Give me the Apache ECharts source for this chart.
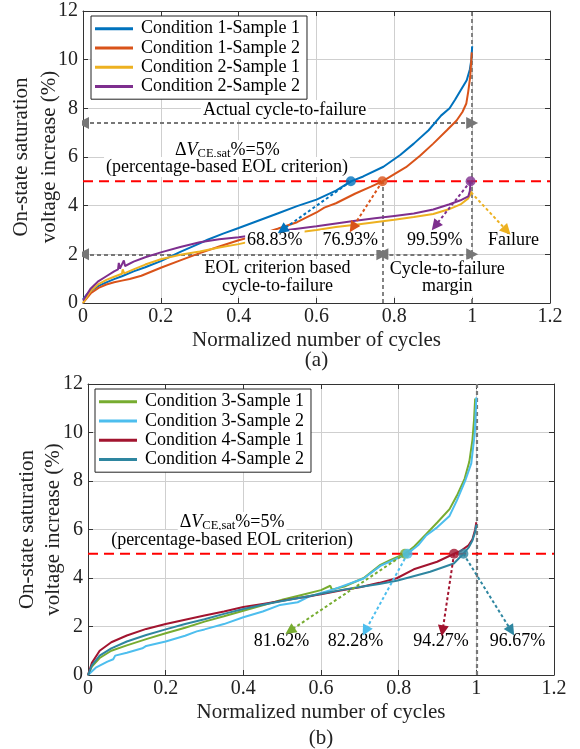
<!DOCTYPE html>
<html><head><meta charset="utf-8">
<script src="https://cdn.jsdelivr.net/npm/echarts@6/dist/echarts.min.js"></script>
<style>html,body{margin:0;padding:0;background:#fff}#c{width:580px;height:749px}</style>
</head><body><div id="c"></div>
<script>
// ---------- axes ----------
const xTickValues = [0, 0.2, 0.4, 0.6, 0.8, 1, 1.2];
const yTickValues = [0, 2, 4, 6, 8, 10, 12];
const eolThreshold = 5;

// ---------- panel (a) ----------
const namesA = ['Condition 1-Sample 1', 'Condition 1-Sample 2', 'Condition 2-Sample 1', 'Condition 2-Sample 2'];
const cond1Sample1 = [[0,0.15],[0.01,0.35],[0.02,0.5],[0.04,0.7],[0.06,0.85],[0.08,0.98],[0.1,1.1],[0.13,1.3],[0.16,1.47],[0.2,1.72],[0.25,2.1],[0.3,2.45],[0.32,2.6],[0.36,2.85],[0.4,3.08],[0.45,3.38],[0.5,3.68],[0.55,3.98],[0.6,4.25],[0.65,4.62],[0.6883,5.0],[0.72,5.2],[0.772,5.6],[0.815,6.08],[0.85,6.55],[0.888,7.1],[0.92,7.7],[0.942,8.0],[0.956,8.35],[0.969,8.7],[0.986,9.15],[0.994,9.6],[0.998,10.0],[1.0,10.55]];
const cond1Sample2 = [[0,0],[0.02,0.4],[0.04,0.62],[0.06,0.76],[0.08,0.85],[0.1,0.92],[0.12,0.99],[0.15,1.12],[0.2,1.45],[0.25,1.75],[0.3,2.05],[0.35,2.32],[0.4,2.58],[0.45,2.8],[0.5,3.05],[0.55,3.32],[0.6,3.72],[0.62,3.92],[0.65,4.1],[0.7,4.5],[0.74,4.78],[0.7693,5.0],[0.8,5.3],[0.83,5.58],[0.866,6.05],[0.9,6.55],[0.935,7.1],[0.96,7.5],[0.975,7.85],[0.985,8.2],[0.99,8.7],[0.995,9.3],[0.999,10.3]];
const cond2Sample1 = [[0,0],[0.02,0.5],[0.04,0.78],[0.06,0.95],[0.08,1.08],[0.1,1.2],[0.102,1.38],[0.106,1.22],[0.13,1.38],[0.16,1.58],[0.2,1.8],[0.25,1.98],[0.3,2.12],[0.35,2.28],[0.4,2.42],[0.45,2.6],[0.5,2.75],[0.55,2.9],[0.6,3.0],[0.65,3.12],[0.7,3.22],[0.75,3.32],[0.8,3.42],[0.85,3.53],[0.9,3.66],[0.94,3.85],[0.97,4.05],[0.99,4.3],[0.995,4.45],[0.997,4.6]];
const cond2Sample2 = [[0,0.1],[0.02,0.6],[0.04,0.9],[0.06,1.1],[0.08,1.3],[0.09,1.38],[0.092,1.65],[0.095,1.42],[0.1,1.48],[0.105,1.75],[0.108,1.52],[0.13,1.7],[0.16,1.88],[0.2,2.08],[0.25,2.3],[0.3,2.5],[0.35,2.62],[0.4,2.7],[0.45,2.82],[0.5,2.95],[0.55,3.05],[0.6,3.15],[0.65,3.27],[0.7,3.38],[0.75,3.48],[0.8,3.58],[0.85,3.68],[0.9,3.84],[0.94,4.05],[0.97,4.22],[0.99,4.38],[0.994,4.6],[0.996,5.0]];
const eolFractionsA = [0.6883, 0.7693, 0.9959];
const eolLabelsA = ['68.83%', '76.93%', '99.59%'];
const arrowEndsA = [[0.512, 3.0], [0.693, 3.1], [0.905, 3.17]];
const failurePoint = [0.997, 4.55];
const failureArrowEnd = [1.089, 2.97];
const actualFailureX = 1;

// ---------- panel (b) ----------
const namesB = ['Condition 3-Sample 1', 'Condition 3-Sample 2', 'Condition 4-Sample 1', 'Condition 4-Sample 2'];
const cond3Sample1 = [[0,0],[0.01,0.35],[0.03,0.7],[0.06,1.0],[0.1,1.22],[0.15,1.48],[0.2,1.72],[0.25,1.95],[0.3,2.2],[0.35,2.42],[0.4,2.65],[0.45,2.87],[0.5,3.1],[0.55,3.3],[0.6,3.5],[0.624,3.68],[0.628,3.52],[0.66,3.65],[0.71,4.0],[0.753,4.54],[0.778,4.74],[0.8162,5.0],[0.84,5.3],[0.87,5.8],[0.9,6.3],[0.931,6.84],[0.95,7.4],[0.97,8.1],[0.982,8.8],[0.99,9.7],[0.994,10.5],[0.997,11.4]];
const cond3Sample2 = [[0,0],[0.02,0.3],[0.05,0.55],[0.065,0.65],[0.07,0.8],[0.1,0.92],[0.14,1.1],[0.15,1.2],[0.2,1.38],[0.25,1.62],[0.28,1.8],[0.3,1.88],[0.35,2.1],[0.4,2.38],[0.45,2.62],[0.495,2.89],[0.54,3.0],[0.565,3.2],[0.6,3.38],[0.636,3.55],[0.71,3.98],[0.753,4.5],[0.8228,5.0],[0.85,5.35],[0.87,5.74],[0.9,6.1],[0.931,6.56],[0.95,7.2],[0.972,8.04],[0.987,8.73],[0.996,9.97],[1.0,11.45]];
const cond4Sample1 = [[0,0],[0.01,0.5],[0.03,1.0],[0.06,1.35],[0.1,1.63],[0.15,1.9],[0.2,2.1],[0.25,2.28],[0.3,2.45],[0.35,2.62],[0.4,2.8],[0.45,2.93],[0.5,3.06],[0.55,3.2],[0.6,3.33],[0.65,3.48],[0.7,3.62],[0.75,3.8],[0.795,3.99],[0.839,4.36],[0.899,4.67],[0.9427,5.0],[0.96,5.12],[0.98,5.35],[0.99,5.6],[0.997,6.0],[1.0,6.3]];
const cond4Sample2 = [[0,0],[0.01,0.4],[0.03,0.8],[0.06,1.1],[0.1,1.38],[0.15,1.65],[0.2,1.88],[0.25,2.1],[0.3,2.3],[0.35,2.52],[0.4,2.72],[0.45,2.9],[0.5,3.05],[0.55,3.2],[0.6,3.35],[0.65,3.5],[0.7,3.63],[0.75,3.75],[0.795,3.89],[0.881,4.26],[0.942,4.6],[0.9667,5.0],[0.98,5.25],[0.99,5.55],[0.997,5.9],[1.0,6.2]];
const eolFractionsB = [0.8162, 0.8228, 0.9427, 0.9667];
const eolLabelsB = ['81.62%', '82.28%', '94.27%', '96.67%'];
const arrowEndsB = [[0.52, 1.82], [0.714, 1.82], [0.913, 1.82], [1.09, 1.82]];

// ---------- styles ----------
const colorsA = ['#0072BD', '#D95319', '#EDB120', '#7E2F8E'];
const colorsB = ['#77AC30', '#4DBEEE', '#A2142F', '#2E86A0'];
const FONT = 'Liberation Serif';
const AX = '#333333';
const TXT = '#000000';

function xAxes(gi, nameText, nameGap, lh) {
  return [{
    gridIndex: gi, type: 'value', min: xTickValues[0], max: xTickValues[xTickValues.length - 1], interval: xTickValues[1] - xTickValues[0],
    position: 'bottom',
    axisLine: { show: true, onZero: false, lineStyle: { color: AX, width: 1 } },
    axisTick: { show: true, inside: true, length: 5, lineStyle: { color: AX } },
    axisLabel: { fontFamily: FONT, fontSize: 20, color: '#222', margin: 4 },
    splitLine: { show: true, lineStyle: { color: '#cfcfcf', width: 1 } },
    name: nameText, nameLocation: 'middle', nameGap: nameGap,
    nameTextStyle: { fontFamily: FONT, fontSize: 21, color: '#222', lineHeight: lh }
  }, {
    gridIndex: gi, type: 'value', min: xTickValues[0], max: xTickValues[xTickValues.length - 1], interval: xTickValues[1] - xTickValues[0],
    position: 'top',
    axisLine: { show: true, onZero: false, lineStyle: { color: AX, width: 1 } },
    axisTick: { show: true, inside: true, length: 5, lineStyle: { color: AX } },
    axisLabel: { show: false }, splitLine: { show: false }
  }];
}
function yAxes(gi, lh, gap) {
  return [{
    gridIndex: gi, type: 'value', min: yTickValues[0], max: yTickValues[yTickValues.length - 1], interval: yTickValues[1] - yTickValues[0],
    position: 'left',
    axisLine: { show: true, onZero: false, lineStyle: { color: AX, width: 1 } },
    axisTick: { show: true, inside: true, length: 5, lineStyle: { color: AX } },
    axisLabel: { fontFamily: FONT, fontSize: 20, color: '#222', margin: 5 },
    splitLine: { show: true, lineStyle: { color: '#cfcfcf', width: 1 } },
    name: 'On-state saturation\nvoltage increase (%)', nameLocation: 'middle', nameGap: gap, nameMoveOverlap: false,
    nameTextStyle: { fontFamily: FONT, fontSize: 21, color: '#222', lineHeight: lh }
  }, {
    gridIndex: gi, type: 'value', min: yTickValues[0], max: yTickValues[yTickValues.length - 1], interval: yTickValues[1] - yTickValues[0],
    position: 'right',
    axisLine: { show: true, onZero: false, lineStyle: { color: AX, width: 1 } },
    axisTick: { show: true, inside: true, length: 5, lineStyle: { color: AX } },
    axisLabel: { show: false }, splitLine: { show: false }
  }];
}

function curve(name, data, color, gi) {
  return { type: 'line', name, data, xAxisIndex: gi * 2, yAxisIndex: gi * 2, showSymbol: false, symbol: 'none',
    lineStyle: { width: 2, color }, itemStyle: { color }, z: 2, silent: true };
}
function seg(coords, color, gi, opts) {
  return Object.assign({ type: 'lines', coordinateSystem: 'cartesian2d', xAxisIndex: gi * 2, yAxisIndex: gi * 2,
    data: [{ coords }], lineStyle: { color, width: 1.5, type: [3, 2], opacity: 1 }, symbol: ['none', 'none'], symbolSize: 10, z: 2, silent: true }, opts || {});
}
function arrow(from, to, color, gi) {
  return seg([from, to], color, gi, { symbol: ['none', 'triangle'], symbolSize: 11, symbolOffset: [0, 5], z: 4,
    lineStyle: { color, width: 2, type: [3, 2.5], opacity: 1 } });
}
const labelBase = { show: true, position: 'inside', fontFamily: FONT, fontSize: 18, color: TXT, textBorderWidth: 0, textBorderColor: 'transparent',
  opacity: 1, backgroundColor: '#fff', padding: [1, 2] };
function textItem(x, y, text, extra) {
  return { value: [x, y], label: Object.assign({}, labelBase, { formatter: text }, extra || {}) };
}
function textSeries(gi, items) {
  return { type: 'scatter', xAxisIndex: gi * 2, yAxisIndex: gi * 2, symbolSize: 0, itemStyle: { color: '#000', opacity: 1 },
    data: items, z: 3, silent: true, clip: false };
}
const richDelta = {
  n: { fontFamily: FONT, fontSize: 18, color: TXT },
  i: { fontFamily: FONT, fontSize: 18, color: TXT, fontStyle: 'italic' },
  s: { fontFamily: FONT, fontSize: 12.5, color: TXT, verticalAlign: 'bottom', padding: [6, 0, 0, 0] }
};
const deltaText = '{n|Δ}{i|V}{s|CE,sat}{n|%=5%}';

const xMin = xTickValues[0], xMax = xTickValues[xTickValues.length - 1], yMax = yTickValues[yTickValues.length - 1];

const series = [];
[cond1Sample1, cond1Sample2, cond2Sample1, cond2Sample2].forEach((d, k) => series.push(curve(namesA[k], d, colorsA[k], 0)));
[cond3Sample1, cond3Sample2, cond4Sample1, cond4Sample2].forEach((d, k) => series.push(curve(namesB[k], d, colorsB[k], 1)));

[0, 1].forEach(gi => series.push({ type: 'line', data: [[xMin, eolThreshold], [xMax, eolThreshold]], xAxisIndex: gi * 2, yAxisIndex: gi * 2,
  symbol: 'none', lineStyle: { color: '#ff0000', width: 2, type: [10, 6] }, z: 2, silent: true }));

const GRAY = '#777777';
const grayDash = { color: GRAY, width: 1.8, type: [4, 3], opacity: 1 };
series.push(seg([[actualFailureX, 0], [actualFailureX, yMax]], GRAY, 0, { lineStyle: grayDash }));
series.push(seg([[eolFractionsA[1], 0], [eolFractionsA[1], eolThreshold]], GRAY, 0, { lineStyle: grayDash }));
series.push(seg([[actualFailureX, 0], [actualFailureX, yMax]], GRAY, 1, { lineStyle: { color: GRAY, width: 2.2, type: [4, 3], opacity: 1 } }));
const grayArrowStyle = { symbol: ['triangle', 'triangle'], symbolSize: 12, symbolOffset: [0, 5], lineStyle: grayDash };
series.push(seg([[xMin, 7.4], [actualFailureX, 7.4]], GRAY, 0, grayArrowStyle));
series.push(seg([[xMin, 2], [eolFractionsA[1], 2]], GRAY, 0, grayArrowStyle));
series.push(seg([[eolFractionsA[1], 2], [actualFailureX, 2]], GRAY, 0, grayArrowStyle));

series.push(textSeries(0, [
  textItem(0.518, 7.93, 'Actual cycle-to-failure'),
  textItem(0.371, 6.27, deltaText, { rich: richDelta }),
  textItem(0.37, 5.59, '(percentage-based EOL criterion)'),
  textItem(0.493, 2.59, eolLabelsA[0]),
  textItem(0.687, 2.59, eolLabelsA[1]),
  textItem(0.904, 2.59, eolLabelsA[2]),
  textItem(1.106, 2.59, 'Failure'),
  textItem(0.5, 1.05, 'EOL criterion based\ncycle-to-failure', { lineHeight: 17.5, align: 'center' }),
  textItem(0.936, 1.03, 'Cycle-to-failure\nmargin', { lineHeight: 17.5, align: 'center' })
]));
series.push(textSeries(1, [
  textItem(0.371, 6.29, deltaText, { rich: richDelta }),
  textItem(0.371, 5.57, '(percentage-based EOL criterion)'),
  textItem(0.498, 1.4, eolLabelsB[0]),
  textItem(0.689, 1.4, eolLabelsB[1]),
  textItem(0.909, 1.4, eolLabelsB[2]),
  textItem(1.106, 1.4, eolLabelsB[3])
]));

eolFractionsA.forEach((f, k) => series.push(arrow([f, eolThreshold], arrowEndsA[k], [colorsA[0], colorsA[1], colorsA[3]][k], 0)));
series.push(arrow(failurePoint, failureArrowEnd, colorsA[2], 0));
eolFractionsB.forEach((f, k) => series.push(arrow([f, eolThreshold], arrowEndsB[k], colorsB[k], 1)));
series.push({ type: 'scatter', xAxisIndex: 0, yAxisIndex: 0, symbolSize: 10, z: 5, silent: true,
  data: eolFractionsA.map((f, k) => ({ value: [f, eolThreshold], itemStyle: { color: [colorsA[0], colorsA[1], colorsA[3]][k] } })) });
series.push({ type: 'scatter', xAxisIndex: 2, yAxisIndex: 2, symbolSize: 10, z: 5, silent: true,
  data: eolFractionsB.map((f, k) => ({ value: [f, eolThreshold], itemStyle: { color: colorsB[k] } })) });

const legendBase = {
  orient: 'vertical', icon: 'rect', itemWidth: 38, itemHeight: 3, itemGap: 0,
  padding: [3, 7, 3, 4], borderColor: '#222', borderWidth: 1, backgroundColor: '#fff',
  textStyle: { fontFamily: FONT, fontSize: 18, color: TXT, lineHeight: 19.3, padding: [0, 0, 0, 3] },
  selectedMode: false
};

const option = {
  animation: false,
  backgroundColor: '#fff',
  grid: [
    { left: 83, top: 11, width: 467, height: 292, show: false, containLabel: false, outerBoundsMode: 'none' },
    { left: 88, top: 384, width: 466, height: 291, show: false, containLabel: false, outerBoundsMode: 'none' }
  ],
  legend: [
    Object.assign({}, legendBase, { data: namesA, left: 91, top: 16 }),
    Object.assign({}, legendBase, { data: namesB, left: 95, top: 389 })
  ],
  xAxis: [...xAxes(0, 'Normalized number of cycles\n(a)', 27, 20), ...xAxes(1, 'Normalized number of cycles\n(b)', 24, 26)],
  yAxis: [...yAxes(0, 28, 20), ...yAxes(1, 26, 22)],
  series
};
const chart = echarts.init(document.getElementById('c'), null, { renderer: 'canvas' });
chart.setOption(option);
</script></body></html>
